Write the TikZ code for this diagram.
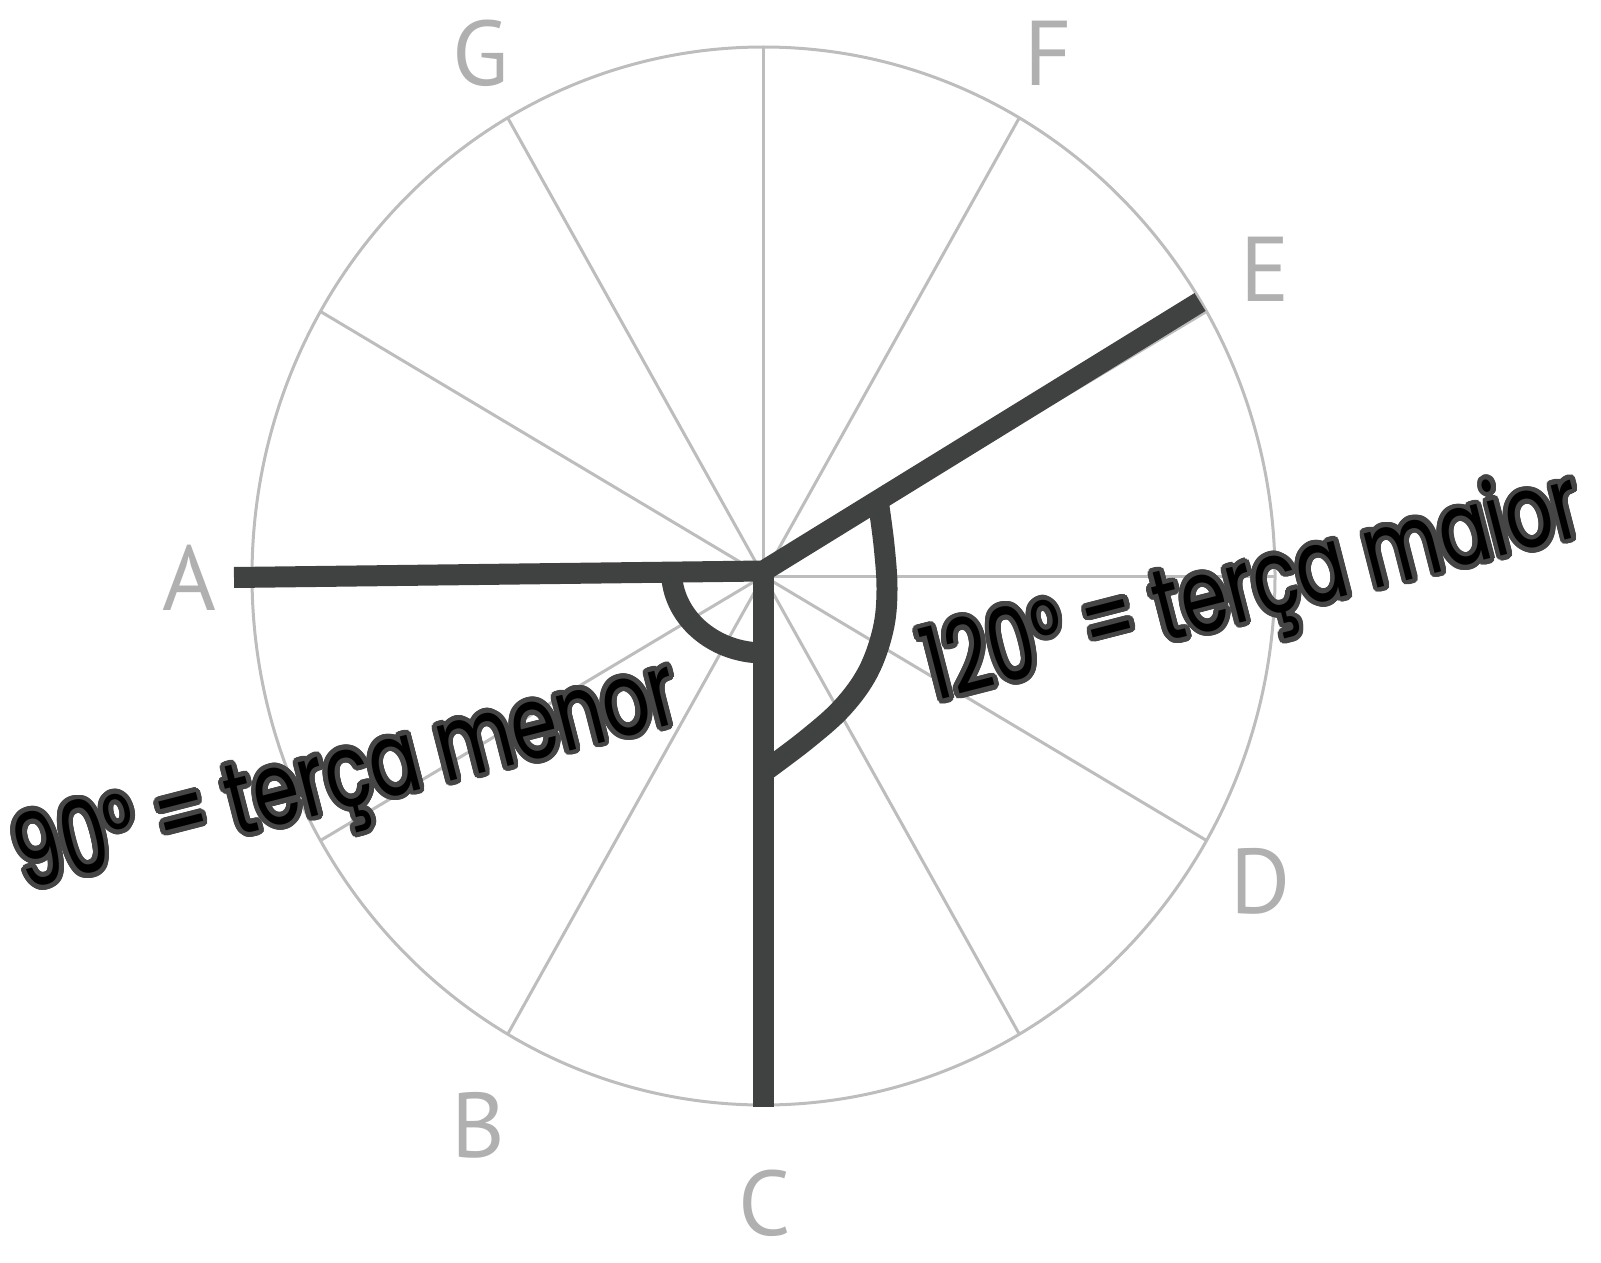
\documentclass[tikz,border=0pt]{standalone}
\usepackage{fontspec}
\usepackage{contour}
\newfontfamily\labelfont{PT Sans}
\newfontfamily\handfont[FakeStretch=0.73]{Poppins}
\definecolor{spokegray}{HTML}{BDBDBD}
\definecolor{lblgray}{HTML}{B0B0B0}
\definecolor{heavygray}{HTML}{404241}
\definecolor{outlgray}{HTML}{454545}
\contourlength{2.4pt}
\contournumber{32}
\begin{document}
\begin{tikzpicture}[x=0.5pt,y=-0.5pt,
  spokeline/.style={draw=spokegray,line width=1.5pt},
  heavy/.style={draw=heavygray,line width=10.5pt},
  notelabel/.style={text=lblgray,font=\labelfont\fontsize{46}{46}\selectfont,inner sep=0pt},
  handtext/.style={text=black,font=\handfont\fontsize{51}{51}\selectfont,inner sep=0pt,anchor=base,rotate=14.4}]
\useasboundingbox (0,0) rectangle (1601,1263);
\coordinate (M) at (763.5,576);
\draw[spokeline] (M) ellipse [x radius=255.75pt, y radius=264.5pt];
\foreach \a in {0,30,...,330}{
  \draw[spokeline] (M) -- ++({511.5*cos(\a)},{-529*sin(\a)});
}
% heavy lines
\coordinate (O) at (763.5,571);
\coordinate (Aend) at (234,577.5);
\coordinate (Eend) at (1200,302);
\coordinate (Cend) at (763.5,1107);
\draw[heavy,line join=miter] (Aend) -- (O) -- (Eend);
\draw[heavy] (O) -- (Cend);
% small arc (90 deg)
\draw[heavy] (O) ++(-92,0) arc[start angle=180,end angle=270,x radius=46pt,y radius=41pt];
% large arc (120 deg)
\draw[heavy] plot[smooth,tension=0.6] coordinates {(878,500) (884,545) (887,590) (883,630) (868,672) (842,708) (806,740) (763.5,772)};
% letters
\node[notelabel] (lA) at (189,578) {A};
\node[notelabel] (lB) at (478,1125) {B};
\node[notelabel] (lC) at (765,1203) {C};
\node[notelabel] (lD) at (1261,881) {D};
\node[notelabel] (lE) at (1265,269) {E};
\node[notelabel] (lF) at (1048,53) {F};
\node[notelabel] (lG) at (481,53) {G};
% texts
\node[handtext] (t1) at (354,806) {\contour{outlgray}{90° = terça menor}};
\node[handtext] (t2) at (1260,618) {\contour{outlgray}{120° = terça maior}};
\end{tikzpicture}
\end{document}
